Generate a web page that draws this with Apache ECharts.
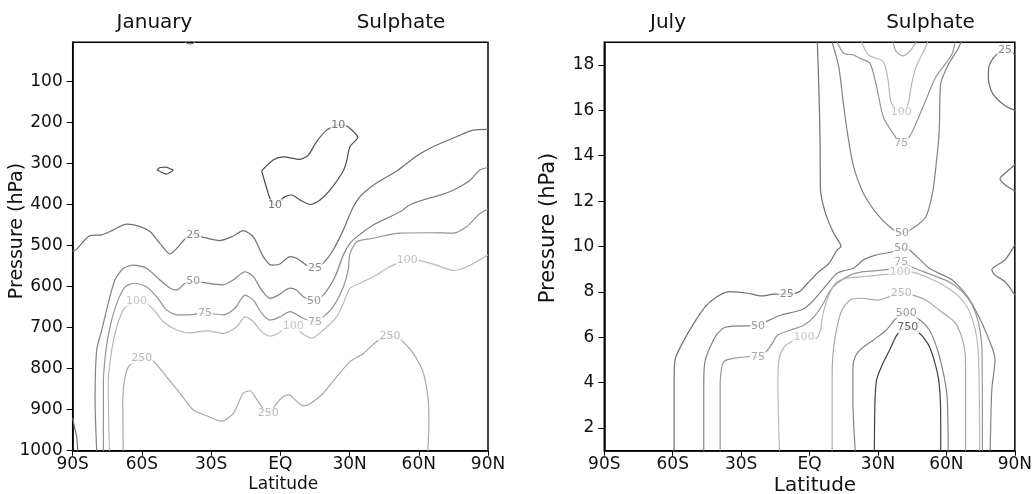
<!DOCTYPE html>
<html>
<head>
<meta charset="utf-8">
<script src="https://cdn.jsdelivr.net/npm/echarts@6/dist/echarts.min.js"></script>
<style>
  html, body { margin: 0; padding: 0; background: #fff; }
  #chart { width: 1035px; height: 494px; }
</style>
</head>
<body>
<div id="chart"></div>
<script>
// axis ticks
const latTicks = [-90, -60, -30, 0, 30, 60, 90]
const latLabels = ['90S', '60S', '30S', 'EQ', '30N', '60N', '90N']
const janTicks = [100, 200, 300, 400, 500, 600, 700, 800, 900, 1000]
const julTicks = [2, 4, 6, 8, 10, 12, 14, 16, 18]

// January contours [lat, hPa]
const janC10 = [[-8.1,318],[-3.1,292],[1.3,284],[8.5,290],[12.1,280],[15.7,247],[20.1,219],[25.1,206],[28.8,209],[33.5,237],[30.2,259],[28.8,292],[27.3,318],[21.5,365],[17.2,389],[12.8,400],[8.5,389],[4.9,377],[2.0,381],[-2.3,401],[-4.5,385],[-8.1,318]]
const janC10b = [[-53.5,316],[-52.2,310],[-49.6,309],[-47.4,314],[-46.5,316],[-47.8,322],[-49.6,326],[-51.7,321],[-53.5,316]]
const janC10c = [[-41.3,5],[-40.2,8],[-39.1,9],[-38,8],[-36.9,5]]
const janC25 = [[-90,515],[-88.3,509],[-82.5,476],[-77.4,474],[-73.8,466],[-66.6,448],[-60.8,454],[-56.5,466],[-52.2,495],[-47.8,521],[-44.9,507],[-40.6,480],[-37.7,474],[-34.1,479],[-26.2,488],[-20.4,477],[-16.1,464],[-11.7,479],[-7.4,527],[-3.8,548],[-0.2,545],[4.2,527],[7.1,531],[11.4,548],[15.0,555],[18.6,543],[22.9,511],[27.3,462],[30.9,414],[34.5,381],[40.3,353],[51.1,316],[59.1,282],[66.3,259],[76.4,235],[83.6,219],[90,217]]
const janC25b = [[-90,920],[-89.5,935],[-88.3,966],[-87.8,1000]]
const janC50 = [[-79.6,1000],[-80.3,877],[-79.6,755],[-77.4,706],[-74.6,641],[-71.7,584],[-68.1,556],[-63.7,548],[-57.9,556],[-52.2,584],[-47.8,604],[-44.9,609],[-41.3,592],[-37.7,588],[-34.1,590],[-29.1,594],[-24.7,596],[-20.4,584],[-15.3,564],[-11.7,576],[-8.1,609],[-4.5,629],[-0.9,621],[4.2,604],[7.1,609],[10,625],[14.6,635],[18.6,621],[23.7,576],[27.3,523],[30.2,495],[33.1,479],[40.3,450],[47.5,430],[51.9,418],[56.2,401],[62.0,389],[70.6,375],[76.4,361],[82.2,341],[86.5,316],[90,310]]
const janC75 = [[-76.7,1000],[-76.7,836],[-75.6,755],[-73.8,698],[-70.9,641],[-67.3,601],[-63.0,592],[-57.9,601],[-53.6,625],[-49.3,657],[-44.9,669],[-39.9,669],[-32.7,664],[-29.1,667],[-24.7,669],[-19.7,653],[-15.3,621],[-11.7,633],[-8.1,665],[-4.5,682],[-0.2,674],[4.2,661],[10.0,678],[15.0,686],[18.6,674],[22.9,649],[27.3,601],[29.4,560],[30.2,520],[33.1,491],[39.6,483],[51.9,470],[64.9,469],[75.0,470],[80.8,454],[86.5,422],[90,412]]
const janC100 = [[-74.1,1000],[-74.6,836],[-73.1,755],[-70.9,698],[-68.1,657],[-65.9,645],[-62.3,635],[-58.7,637],[-54.3,661],[-50.7,686],[-44.9,706],[-39.2,713],[-31.9,708],[-24.7,714],[-18.9,698],[-15.3,674],[-11.7,686],[-8.1,710],[-4.5,721],[-0.9,714],[2.0,702],[5.6,696],[9.3,714],[13.6,726],[18.6,706],[24.4,674],[27.3,641],[30.2,604],[34.5,592],[40.3,576],[47.5,552],[55.0,535],[60.5,537],[67.8,548],[75.0,561],[80.8,552],[90,523]]
const janC250 = [[-68.1,1000],[-68.3,877],[-67.3,820],[-65.2,791],[-60.1,775],[-55.3,781],[-49.3,820],[-43.5,860],[-37.7,901],[-31.9,915],[-25.4,928],[-20.4,909],[-16.1,860],[-13.2,854],[-11.0,868],[-8.1,893],[-5.2,909],[-1.6,885],[1.3,868],[4.2,864],[5.6,872],[10.0,891],[12.8,886],[18.6,860],[24.4,820],[30.2,783],[36.0,763],[41.8,734],[47.5,722],[51.9,729],[57.6,763],[62.0,811],[64.1,877],[64.4,933],[63.9,1000]]
const janLabels = [[25.1,206,'10'],[-2.3,401,'10'],[-37.7,474,'25'],[15.0,555,'25'],[-37.7,588,'50'],[14.6,635,'50'],[-32.7,664,'75'],[15.0,686,'75'],[-62.3,635,'100'],[5.6,696,'100'],[55.0,535,'100'],[-60.1,775,'250'],[-5.2,909,'250'],[47.5,722,'250']]

// July contours [lat, level]
const julC25 = [[3.4,19],[4.1,16.9],[4.6,14.7],[4.8,12.5],[7.0,11.46],[10.6,10.58],[13.8,10.0],[12.1,9.85],[8.5,9.26],[4.1,8.89],[-0.9,8.38],[-4.5,8.01],[-10.0,7.89],[-15.4,7.9],[-21.2,7.82],[-26.9,7.94],[-34.8,8.01],[-40.6,7.79],[-45.7,7.35],[-50.7,6.62],[-55.8,5.73],[-59.0,5.0],[-59.4,3.97],[-59.4,1]]
const julC25w1 = [[90,18.45],[88.3,18.6],[85.7,18.66],[82.5,18.5],[80.5,18.3],[78.6,17.9],[78.4,17.4],[79.5,16.9],[81.3,16.6],[85.7,16.2],[90,16.0]]
const julC25w2 = [[90,13.6],[86,13.25],[83.5,12.99],[86,12.7],[90,12.45]]
const julC25w3 = [[90,10.07],[85.7,9.41],[79.9,8.97],[81.3,8.74],[85.7,8.45],[90,7.86]]
const julC50U = [[9.9,19],[12.8,17.92],[15.0,16.16],[17.1,14.69],[19.3,13.52],[23.6,12.35],[29.4,11.46],[35.1,10.87],[40.5,10.58],[45.3,10.8],[51.0,11.31],[53.9,12.35],[55.4,13.52],[56.8,14.99],[57.1,16.16],[57.5,17.19],[61.1,18.07],[64.8,18.66],[66.4,19]]
const julC75U = [[12.1,19],[15.0,18.52],[19.3,18.44],[22.1,18.29],[26.5,18.07],[29.4,17.04],[32.3,15.72],[36.6,14.99],[40.2,14.55],[43.8,14.84],[46.7,15.43],[51.0,16.46],[55.4,17.48],[59.7,18.07],[62.6,18.52],[63.8,19]]
const julC100U = [[22.9,19],[25.8,18.44],[32.3,18.15],[34.4,17.34],[35.9,16.31],[40.2,15.94],[43.1,16.24],[44.5,17.04],[46.7,17.92],[49.6,18.52],[51.8,19]]
const julC250U = [[36.6,19],[38.0,18.59],[40.9,18.4],[43.8,18.59],[46.7,19]]
const julC50 = [[-46.4,1],[-46.4,3.97],[-45.7,5.0],[-41.3,6.03],[-37.0,6.44],[-26.9,6.5],[-22.6,6.5],[-19.0,6.69],[-12.5,6.98],[-3.8,7.2],[0.5,7.5],[5.6,8.08],[9.2,8.52],[12.1,8.82],[15.0,8.93],[19.3,9.04],[23.6,9.41],[29.4,9.63],[36.6,9.77],[40.2,9.92],[43.8,9.85],[52.5,9.04],[62.6,8.52],[69.8,7.72],[75.6,6.62],[79.9,5.58],[81.3,5.0],[79.9,3.68],[79.2,1]]
const julC75 = [[-39.2,1],[-39.2,3.97],[-37.7,4.92],[-33.4,5.07],[-26.9,5.14],[-22.6,5.12],[-19.0,5.37],[-16.8,5.66],[-13.9,6.1],[-8.2,6.32],[-2.4,6.54],[2.0,6.91],[5.6,7.42],[9.2,8.08],[12.1,8.38],[17.8,8.74],[23.6,8.89],[35.1,9.0],[40.2,9.29],[46.0,9.04],[53.9,8.74],[61.1,8.45],[66.9,8.01],[71.3,7.42],[74.1,6.62],[75.6,5.44],[75.8,1]]
const julC100 = [[-13.2,1],[-13.9,3.97],[-13.2,5.14],[-10.3,5.66],[-2.4,6.0],[2.7,5.95],[4.8,6.32],[5.6,6.91],[7.7,7.64],[9.9,8.16],[12.1,8.45],[16.4,8.6],[23.6,8.67],[35.1,8.79],[39.8,8.89],[46.0,8.85],[52.5,8.6],[59.7,8.23],[65.5,7.79],[69.8,7.2],[72.7,6.32],[74.1,5.14],[74.6,1]]
const julC250 = [[9.9,1],[9.9,3.24],[9.9,4.41],[10.6,5.58],[12.1,6.47],[14.2,7.2],[17.8,7.64],[22.1,7.72],[30.1,7.64],[35.1,7.79],[40.2,7.94],[45.3,7.86],[51.0,7.64],[56.8,7.2],[64.0,6.62],[67.5,5.73],[68.4,4.7],[68.4,1]]
const julC500 = [[20.0,1],[19.0,3.24],[19.0,4.7],[20.0,5.14],[22.1,5.44],[28.0,5.88],[33.7,6.32],[38.0,6.84],[42.4,7.08],[47.4,6.84],[52.5,6.32],[56.1,5.44],[59.0,4.26],[60.4,3.24],[60.8,1]]
const julC750 = [[28.4,1],[28.7,3.24],[29.4,4.12],[31.5,4.7],[35.1,5.44],[38.8,6.18],[43.1,6.43],[47.4,6.25],[51.8,5.73],[54.6,5.0],[56.8,3.97],[57.5,2.35],[57.5,1]]
const julLabels = [[-10.0,7.89,'25'],[85.7,18.66,'25'],[40.5,10.58,'50'],[40.2,9.92,'50'],[-22.6,6.5,'50'],[40.2,14.55,'75'],[40.2,9.29,'75'],[-22.6,5.12,'75'],[40.2,15.94,'100'],[39.8,8.89,'100'],[-2.4,6.0,'100'],[40.2,7.94,'250'],[42.4,7.08,'500'],[43.1,6.43,'750']]

const levelColor = { '10': '#505050', '25': '#707070', '50': '#828282', '75': '#959595', '100': '#b8b8b8', '250': '#a8a8a8', '500': '#858585', '750': '#404040' }

const janLines = [[janC10, '10'], [janC10b, '10'], [janC10c, '25'], [janC25, '25'], [janC25b, '25'], [janC50, '50'], [janC75, '75'], [janC100, '100'], [janC250, '250']]
const julLines = [[julC25, '25'], [julC25w1, '25'], [julC25w2, '25'], [julC25w3, '25'], [julC50U, '50'], [julC75U, '75'], [julC100U, '100'], [julC250U, '250'], [julC50, '50'], [julC75, '75'], [julC100, '100'], [julC250, '250'], [julC500, '500'], [julC750, '750']]

const font = 'DejaVu Sans'

function lineSeries(data, level, idx) {
  return {
    type: 'line',
    xAxisIndex: idx,
    yAxisIndex: idx,
    data: data,
    symbol: 'none',
    smooth: 0.25,
    silent: true,
    z: 2,
    lineStyle: { color: levelColor[level], width: 1.2 }
  }
}

function labelSeries(list, idx) {
  return {
    type: 'scatter',
    xAxisIndex: idx,
    yAxisIndex: idx,
    symbolSize: 0,
    silent: true,
    z: 5,
    data: list.map(d => ({
      value: [d[0], d[1]],
      label: { formatter: d[2], color: levelColor[d[2]] }
    })),
    label: {
      show: true,
      position: 'inside',
      fontFamily: font,
      fontSize: 11,
      backgroundColor: '#fff',
      padding: [0, 1]
    }
  }
}

function xAxis(idx) {
  return {
    type: 'value',
    gridIndex: idx,
    min: -90,
    max: 90,
    interval: 30,
    axisLine: { onZero: false, lineStyle: { color: '#000', width: 1.5 } },
    axisTick: { length: 5, lineStyle: { color: '#000' } },
    axisLabel: {
      margin: 5,
      color: '#111',
      fontFamily: font,
      fontSize: 17,
      formatter: v => latLabels[latTicks.indexOf(v)]
    },
    splitLine: { show: false }
  }
}

function yAxis(idx, min, max, ticks, inverse) {
  return {
    type: 'value',
    gridIndex: idx,
    min: min,
    max: max,
    inverse: inverse,
    axisLine: { onZero: false, lineStyle: { color: '#000', width: 1.5 } },
    axisTick: { length: 6, customValues: ticks, lineStyle: { color: '#000' } },
    axisLabel: {
      margin: 10,
      color: '#111',
      fontFamily: font,
      fontSize: 17,
      customValues: ticks,
      formatter: v => String(v)
    },
    splitLine: { show: false }
  }
}

function text(str, x, y, size, rot) {
  return {
    type: 'text',
    x: x,
    y: y,
    rotation: rot || 0,
    style: {
      text: str,
      fill: '#111',
      font: size + 'px "' + font + '"',
      textAlign: 'center',
      textVerticalAlign: 'middle',
      align: 'center',
      verticalAlign: 'middle'
    }
  }
}

const series = []
janLines.forEach(l => series.push(lineSeries(l[0], l[1], 0)))
julLines.forEach(l => series.push(lineSeries(l[0], l[1], 1)))
series.push(labelSeries(janLabels, 0))
series.push(labelSeries(julLabels, 1))

const option = {
  animation: false,
  grid: [
    { left: 72.7, top: 42.3, width: 415.3, height: 408.4, show: true, borderColor: '#000', borderWidth: 1.5 },
    { left: 604.3, top: 42.3, width: 415.7, height: 408.4, show: true, borderColor: '#000', borderWidth: 1.5 }
  ],
  xAxis: [xAxis(0), xAxis(1)],
  yAxis: [yAxis(0, 5, 1000, janTicks, true), yAxis(1, 1, 19, julTicks, false)],
  graphic: [
    text('January', 154.5, 23, 20),
    text('Sulphate', 401, 23, 20),
    text('July', 668, 23, 20),
    text('Sulphate', 930.5, 23, 20),
    text('Pressure (hPa)', 17.5, 231, 19, Math.PI / 2),
    text('Pressure (hPa)', 549, 228, 21, Math.PI / 2),
    text('Latitude', 283.3, 485, 17),
    text('Latitude', 815, 485.5, 20)
  ],
  series: series
}

const chart = echarts.init(document.getElementById('chart'))
chart.setOption(option)
</script>
</body>
</html>
